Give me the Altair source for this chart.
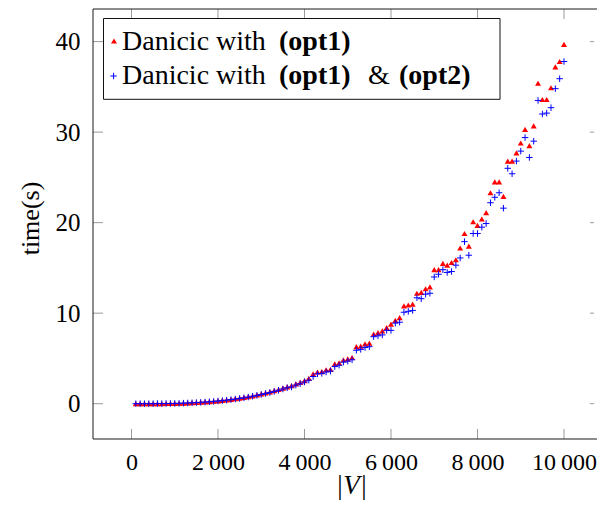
import altair as alt
import pandas as pd

# ---- data ----
V = list(range(100, 10001, 100))

opt1 = [
    0.00, 0.00, 0.00, 0.00, 0.01, 0.01, 0.01, 0.02, 0.03, 0.04,
    0.05, 0.07, 0.09, 0.11, 0.13, 0.16, 0.20, 0.23, 0.27, 0.32,
    0.37, 0.42, 0.48, 0.55, 0.62, 0.70, 0.78, 0.87, 0.97, 1.08,
    1.20, 1.30, 1.44, 1.57, 1.71, 1.86, 2.00, 2.20, 2.35, 2.55,
    2.80, 3.30, 3.50, 3.55, 3.75, 3.80, 4.40, 4.50, 4.85, 4.95,
    5.10, 6.30, 6.35, 6.60, 6.70, 7.70, 7.85, 8.05, 8.40, 8.80,
    9.20, 9.50, 10.80, 10.90, 11.00, 12.20, 12.30, 12.70, 12.90, 14.80,
    14.80, 15.50, 15.30, 15.60, 15.90, 17.20, 18.80, 17.40, 20.10, 19.70,
    20.40, 21.10, 23.30, 24.50, 24.50, 22.90, 26.80, 26.80, 27.70, 28.80,
    30.30, 28.50, 30.70, 35.40, 33.60, 33.60, 34.90, 37.20, 37.80, 39.70,
]

opt12 = [
    0.00, 0.00, 0.00, 0.00, 0.00, 0.01, 0.01, 0.02, 0.02, 0.03,
    0.04, 0.06, 0.08, 0.10, 0.12, 0.15, 0.18, 0.21, 0.25, 0.30,
    0.34, 0.39, 0.45, 0.51, 0.58, 0.65, 0.73, 0.82, 0.92, 1.02,
    1.13, 1.23, 1.36, 1.48, 1.62, 1.76, 1.85, 2.05, 2.20, 2.40,
    2.60, 3.00, 3.30, 3.35, 3.50, 3.60, 4.10, 4.25, 4.60, 4.70,
    4.85, 5.90, 6.00, 6.20, 6.30, 7.40, 7.50, 7.60, 8.10, 8.10,
    8.90, 9.00, 10.10, 10.20, 10.30, 11.70, 11.60, 12.10, 12.20, 14.00,
    14.30, 14.80, 14.50, 14.60, 15.30, 16.10, 17.90, 16.40, 18.80, 18.80,
    19.50, 19.90, 22.20, 22.80, 23.30, 21.60, 26.00, 25.40, 26.80, 27.90,
    29.40, 27.20, 29.00, 33.50, 32.00, 32.10, 32.70, 34.80, 35.90, 37.80,
]

x_tick_values = [0, 2000, 4000, 6000, 8000, 10000]
x_tick_labels = ["0", "2\u2009000", "4\u2009000", "6\u2009000", "8\u2009000", "10\u2009000"]
y_tick_values = [0, 10, 20, 30, 40]

series_names = ["Danicic with (opt1)", "Danicic with (opt1) & (opt2)"]

# ---- layout constants ----
W, H = 501, 430
FONT = "Liberation Serif"
TICK_COLOR = "#9a9a9a"
FRAME_COLOR = "#1a1a1a"

xscale = alt.Scale(domain=[-890, 10694], nice=False, zero=False)
yscale = alt.Scale(domain=[-3.9, 43.6], nice=False, zero=False)

df1 = pd.DataFrame({"V": V, "time": opt1, "series": series_names[0]})
df2 = pd.DataFrame({"V": V, "time": opt12, "series": series_names[1]})

label_expr = " : ".join(
    f"datum.value == {v} ? '{l}'" for v, l in zip(x_tick_values, x_tick_labels)
) + " : ''"

x_axis = alt.Axis(
    values=x_tick_values, labelExpr=label_expr, ticks=False, tickSize=0,
    domain=False, grid=False, labelFont=FONT, labelFontSize=24,
    labelColor="#000000", labelPadding=11, labelFlush=False, labelOverlap=False,
    title="|V|", titleFont=FONT, titleFontSize=27, titleFontStyle="italic",
    titleFontWeight="normal", titleColor="#000000", titleX=258, titleY=54,
    titleAlign="center", titleBaseline="alphabetic",
)
y_axis = alt.Axis(
    values=y_tick_values, ticks=False, tickSize=0, domain=False, grid=False,
    labelFont=FONT, labelFontSize=25, labelColor="#000000", labelPadding=13,
    labelFlush=False, labelOverlap=False,
    title="time(s)", titleFont=FONT, titleFontSize=26, titleFontWeight="normal",
    titleColor="#000000", titleX=-63, titleY=209, titleAngle=270,
    titleAlign="center", titleBaseline="middle",
)

X = alt.X("V:Q", scale=xscale, axis=x_axis)
Y = alt.Y("time:Q", scale=yscale, axis=y_axis)

red = alt.Chart(df1).mark_point(
    shape="triangle-up", filled=True, size=36, color="#ff0000", opacity=1
).encode(x=X, y=Y)

PLUS = "M-1,0L1,0M0,-1L0,1"
blue = alt.Chart(df2).mark_point(
    shape=PLUS, filled=False, size=42, color="#0000ff", strokeWidth=1, opacity=1
).encode(x=X, y=Y)

xt = pd.DataFrame({"V": x_tick_values})
yt = pd.DataFrame({"time": y_tick_values})
TL = 10

bottom_ticks = alt.Chart(xt).mark_rule(color=TICK_COLOR, strokeWidth=1).encode(
    x=X, y=alt.value(H - TL), y2=alt.value(H))
top_ticks = alt.Chart(xt).mark_rule(color=TICK_COLOR, strokeWidth=1).encode(
    x=X, y=alt.value(0), y2=alt.value(TL))
left_ticks = alt.Chart(yt).mark_rule(color=TICK_COLOR, strokeWidth=1).encode(
    y=Y, x=alt.value(0), x2=alt.value(TL))
right_ticks = alt.Chart(yt).mark_rule(color=TICK_COLOR, strokeWidth=1).encode(
    y=Y, x=alt.value(W - 4), x2=alt.value(W))

one = alt.Data(values=[{"k": 1}])
frame_top = alt.Chart(one).mark_rule(color=FRAME_COLOR, strokeWidth=1).encode(
    x=alt.value(0), x2=alt.value(W + 3), y=alt.value(0))
frame_bottom = alt.Chart(one).mark_rule(color=FRAME_COLOR, strokeWidth=1).encode(
    x=alt.value(0), x2=alt.value(W + 3), y=alt.value(H))
frame_left = alt.Chart(one).mark_rule(color=FRAME_COLOR, strokeWidth=1).encode(
    x=alt.value(0), y=alt.value(0), y2=alt.value(H))

# ---- legend (drawn manually to allow bold parts) ----
leg_box = alt.Chart(one).mark_rect(fill="white", stroke="#111", strokeWidth=1).encode(
    x=alt.value(10.5), x2=alt.value(407), y=alt.value(9.5), y2=alt.value(90.3))
leg_tri = alt.Chart(one).mark_point(
    shape="triangle-up", filled=True, size=36, color="#ff0000", opacity=1
).encode(x=alt.value(21), y=alt.value(32))
leg_plus = alt.Chart(one).mark_point(
    shape=PLUS, filled=False, size=42, color="#0000ff", strokeWidth=1, opacity=1
).encode(x=alt.value(20.6), y=alt.value(67))

LFS = 28


def txt(s, x, y, bold=False):
    return alt.Chart(one).mark_text(
        align="left", baseline="alphabetic", font=FONT, fontSize=LFS,
        fontWeight="bold" if bold else "normal", color="#000000",
    ).encode(x=alt.value(x), y=alt.value(y), text=alt.value(s))


legend_layers = [
    leg_box, leg_tri, leg_plus,
    txt("Danicic with", 29, 40.8), txt("(opt1)", 186, 40.8, True),
    txt("Danicic with", 29, 75.2), txt("(opt1)", 186, 75.2, True),
    txt("&", 275, 75.2), txt("(opt2)", 306, 75.2, True),
]

chart = alt.layer(
    red, blue, bottom_ticks, top_ticks, left_ticks, right_ticks,
    frame_top, frame_bottom, frame_left, *legend_layers
).properties(
    width=W, height=H,
    padding={"left": 85, "top": 1, "right": 3, "bottom": 61},
    autosize=alt.AutoSizeParams(type="none"),
).configure_view(stroke=None)

chart.save("out.html", embed_options={"renderer": "svg", "actions": False})
